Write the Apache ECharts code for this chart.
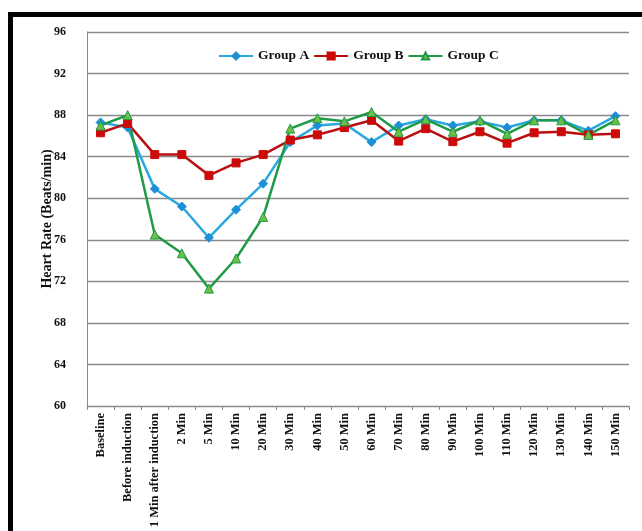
<!DOCTYPE html>
<html>
<head>
<meta charset="utf-8">
<script src="https://cdn.jsdelivr.net/npm/echarts@6/dist/echarts.min.js"></script>
<style>
html,body{margin:0;padding:0;background:#fff;}
#chart{width:642px;height:531px;}
</style>
</head>
<body>
<div id="chart"></div>
<script>
var categories = ["Baseline","Before induction","1 Min after induction","2 Min","5 Min","10 Min","20 Min","30 Min","40 Min","50 Min","60 Min","70 Min","80 Min","90 Min","100 Min","110 Min","120 Min","130 Min","140 Min","150 Min"];
var groupA = [87.3, 86.8, 80.9, 79.2, 76.2, 78.9, 81.4, 85.4, 87.0, 87.2, 85.4, 87.0, 87.6, 87.0, 87.4, 86.8, 87.5, 87.5, 86.5, 87.9];
var groupB = [86.3, 87.2, 84.2, 84.2, 82.2, 83.4, 84.2, 85.6, 86.1, 86.8, 87.5, 85.5, 86.7, 85.45, 86.4, 85.3, 86.3, 86.4, 86.1, 86.2];
var groupC = [87.0, 88.0, 76.5, 74.7, 71.3, 74.2, 78.2, 86.7, 87.7, 87.4, 88.3, 86.4, 87.6, 86.4, 87.5, 86.2, 87.5, 87.5, 86.1, 87.5];
var yTicks = {min: 60, max: 96, interval: 4};

var font = "'Liberation Serif', 'Times New Roman', serif";
var chart = echarts.init(document.getElementById('chart'));
function mk(name, data, lineColor, symColor, symbol, size, border) {
  return {
    name: name, type: 'line', data: data,
    symbol: symbol, symbolSize: size,
    lineStyle: {color: lineColor, width: 2.5},
    itemStyle: {color: symColor, borderColor: border || symColor, borderWidth: 1},
    emphasis: {disabled: true},
    animation: false
  };
}
chart.setOption({
  backgroundColor: '#ffffff',
  animation: false,
  graphic: [
    {type: 'rect', shape: {x: 8, y: 12, width: 634, height: 5}, style: {fill: '#000'}, z: 10},
    {type: 'rect', shape: {x: 8, y: 12, width: 5, height: 519}, style: {fill: '#000'}, z: 10}
  ],
  legend: {
    top: 44, left: 213,
    itemWidth: 34, itemHeight: 9, itemGap: 4,
    textStyle: {fontFamily: font, fontWeight: 'bold', fontSize: 13.5, color: '#111'},
    data: ['Group A', 'Group B', 'Group C']
  },
  grid: {left: 87, right: 13, top: 32, bottom: 125, containLabel: false},
  xAxis: {
    type: 'category', data: categories, boundaryGap: true,
    axisLine: {lineStyle: {color: '#8a8a8a', width: 1}},
    axisTick: {show: true, length: 4, alignWithLabel: false, lineStyle: {color: '#8a8a8a'}},
    axisLabel: {interval: 0, rotate: 90, margin: 7, fontFamily: font, fontWeight: 'bold', fontSize: 12.5, color: '#111'}
  },
  yAxis: {
    type: 'value', min: yTicks.min, max: yTicks.max, interval: yTicks.interval,
    name: 'Heart Rate (Beats/min)', nameLocation: 'middle', nameGap: 33, nameRotate: 90,
    nameMoveOverlap: false,
    nameTextStyle: {fontFamily: font, fontWeight: 'bold', fontSize: 14, color: '#111'},
    axisLine: {show: true, lineStyle: {color: '#8a8a8a', width: 1}},
    axisTick: {show: false},
    splitLine: {lineStyle: {color: '#8a8a8a', width: 1.3}},
    axisLabel: {margin: 21, fontFamily: font, fontWeight: 'bold', fontSize: 12, color: '#111'}
  },
  series: [
    mk('Group A', groupA, '#2aa8e0', '#1e8fd6', 'diamond', 9),
    mk('Group B', groupB, '#b81010', '#cc0a0a', 'rect', 8),
    mk('Group C', groupC, '#1f9a47', '#6cbf46', 'triangle', 9, '#1f9a47')
  ]
});
</script>
</body>
</html>
